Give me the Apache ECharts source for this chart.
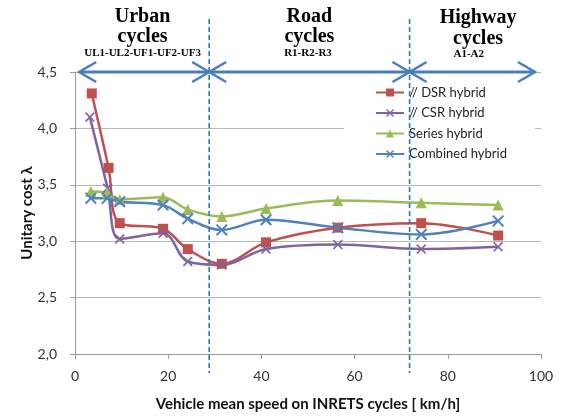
<!DOCTYPE html>
<html><head><meta charset="utf-8">
<script src="https://cdn.jsdelivr.net/npm/echarts@6/dist/echarts.min.js"></script>
<style>html,body{margin:0;padding:0;background:#fff}#c{width:571px;height:417px}</style>
</head><body><div id="c"></div>
<script>
// ---- data ----
const seriesNames = ['// DSR hybrid', '// CSR hybrid', 'Series hybrid', 'Combined hybrid'];
const dsrSpeed = [3.6, 7.2, 9.6, 18.9, 24.2, 31.5, 41.0, 56.4, 74.3, 90.8];
const dsrCost  = [4.31, 3.65, 3.16, 3.11, 2.93, 2.80, 2.99, 3.12, 3.16, 3.05];
const csrSpeed = [3.2, 7.0, 9.6, 18.9, 24.2, 31.5, 41.0, 56.4, 74.3, 90.8];
const csrCost  = [4.10, 3.47, 3.02, 3.07, 2.82, 2.79, 2.93, 2.97, 2.93, 2.95];
const serSpeed = [3.4, 6.9, 9.6, 18.9, 24.2, 31.5, 41.0, 56.4, 74.3, 90.8];
const serCost  = [3.44, 3.43, 3.37, 3.39, 3.28, 3.22, 3.29, 3.36, 3.34, 3.32];
const comSpeed = [3.4, 6.9, 9.6, 18.9, 24.2, 31.5, 41.0, 56.4, 74.3, 90.8];
const comCost  = [3.38, 3.38, 3.35, 3.32, 3.20, 3.10, 3.19, 3.12, 3.06, 3.18];
const yTicks = ['2,0', '2,5', '3,0', '3,5', '4,0', '4,5'];
const xTicks = [0, 20, 40, 60, 80, 100];
// zone boundaries (speed) and labels
const zoneBounds = [0.9, 28.8, 71.8, 98.7];
const zoneTitles = ['Urban', 'Road', 'Highway'];
const zoneSub = ['UL1-UL2-UF1-UF2-UF3', 'R1-R2-R3', 'A1-A2'];
const zoneTitleAt = [14.5, 50.3, 86.5];
const zoneSubAt = [14.5, 50.0, 84.5];

const pair = (xs, ys) => xs.map((x, i) => [x, ys[i]]);
const xSym = 'path://M0,1.2L1.2,0L5,3.8L8.8,0L10,1.2L6.2,5L10,8.8L8.8,10L5,6.2L1.2,10L0,8.8L3.8,5Z';
const colors = ['#c0504d', '#8064a2', '#9bbb59', '#4f81bd'];
const symbols = ['rect', xSym, 'triangle', xSym];
const symSizes = [10, 10, 11, 12];
const datas = [pair(dsrSpeed, dsrCost), pair(csrSpeed, csrCost), pair(serSpeed, serCost), pair(comSpeed, comCost)];
const font = 'Lato, "Noto Sans", sans-serif';

const chart = echarts.init(document.getElementById('c'), null, {renderer: 'canvas'});
const option = {
  animation: false,
  backgroundColor: '#fff',
  color: colors,
  grid: {left: 75, right: 30, top: 72, bottom: 62, containLabel: false},
  legend: {
    orient: 'vertical', left: 344, top: 82,
    padding: [4, 28, 4, 31], itemGap: 7.5, itemWidth: 28, itemHeight: 10,
    backgroundColor: '#fff',
    textStyle: {fontFamily: font, fontSize: 13, color: '#222'},
    data: seriesNames
  },
  xAxis: {
    type: 'value', min: 0, max: 100, interval: 20,
    name: 'Vehicle mean speed on INRETS cycles [ km/h]',
    nameLocation: 'middle', nameGap: 43,
    nameTextStyle: {fontFamily: font, fontSize: 15, fontWeight: 'bold', color: '#111'},
    axisLine: {lineStyle: {color: '#9a9a9a', width: 1}},
    axisTick: {show: true, length: 5, lineStyle: {color: '#9a9a9a'}},
    axisLabel: {fontFamily: font, fontSize: 14, color: '#333', margin: 15,
      formatter: v => xTicks.includes(v) ? String(v) : ''},
    splitLine: {show: false}
  },
  yAxis: {
    type: 'value', min: 2.0, max: 4.5, interval: 0.5,
    name: 'Unitary cost \u03bb', nameLocation: 'middle', nameGap: 40,
    nameMoveOverlap: false,
    nameTextStyle: {fontFamily: font, fontSize: 15, fontWeight: 'bold', color: '#111'},
    axisLine: {show: true, lineStyle: {color: '#9a9a9a', width: 1}},
    axisTick: {show: true, length: 5, lineStyle: {color: '#9a9a9a'}},
    axisLabel: {fontFamily: font, fontSize: 14, color: '#333', margin: 18,
      formatter: v => yTicks[Math.round((v - 2.0) / 0.5)]},
    splitLine: {show: true, lineStyle: {color: '#b8b8b8', width: 1}}
  },
  series: seriesNames.map((n, i) => ({
    name: n, type: 'line', data: datas[i], smooth: 0.35,
    symbol: symbols[i], symbolSize: symSizes[i],
    lineStyle: {color: colors[i], width: 2.5},
    itemStyle: {color: colors[i]}
  }))
};
chart.setOption(option);

// ---- annotations positioned through the axis scales ----
const px = (x, y) => chart.convertToPixel({gridIndex: 0}, [x, y]);
const topY = px(0, 4.5)[1];
const g = [];
const blue = '#4a7ebb';
const dash = '#2e75c6';
const serif = '"Liberation Serif", "DejaVu Serif", serif';
const titleY = [[17, 37, 53], [17, 37, 53], [18, 39, 54]];
// dashed boundaries
[zoneBounds[1], zoneBounds[2]].forEach(b => {
  const x = px(b, 4.5)[0];
  g.push({type: 'line', z: 100, shape: {x1: x, y1: 19, x2: x, y2: 373},
    style: {stroke: dash, lineWidth: 1.6, lineDash: [5, 3]}});
});
// arrows and zone titles
for (let k = 0; k < 3; k++) {
  const a = px(zoneBounds[k], 4.5)[0];
  const b = px(zoneBounds[k + 1], 4.5)[0];
  g.push({type: 'line', z: 90, shape: {x1: a, y1: topY, x2: b, y2: topY},
    style: {stroke: blue, lineWidth: 3}});
  g.push({type: 'polyline', z: 90, shape: {points: [[a + 17, topY - 10], [a, topY], [a + 17, topY + 10]]},
    style: {stroke: blue, lineWidth: 2.5, fill: null}});
  g.push({type: 'polyline', z: 90, shape: {points: [[b - 17, topY - 10], [b, topY], [b - 17, topY + 10]]},
    style: {stroke: blue, lineWidth: 2.5, fill: null}});
  const cx = px(zoneTitleAt[k], 4.5)[0];
  const sx = px(zoneSubAt[k], 4.5)[0];
  g.push({type: 'text', z: 95, style: {text: zoneTitles[k], x: cx, y: titleY[k][0], align: 'center', verticalAlign: 'middle',
    font: 'bold 20px ' + serif, fill: '#000'}});
  g.push({type: 'text', z: 95, style: {text: 'cycles', x: cx, y: titleY[k][1], align: 'center', verticalAlign: 'middle',
    font: 'bold 20px ' + serif, fill: '#000'}});
  g.push({type: 'text', z: 95, style: {text: zoneSub[k], x: sx, y: titleY[k][2], align: 'center', verticalAlign: 'middle',
    font: 'bold 11px ' + serif, fill: '#000'}});
}
chart.setOption({graphic: {elements: g}});
</script></body></html>
